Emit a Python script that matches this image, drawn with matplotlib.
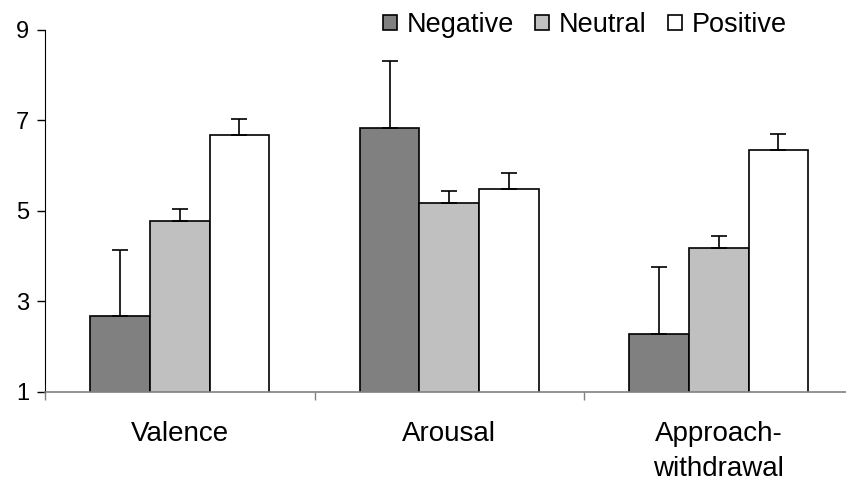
import matplotlib
matplotlib.use('Agg')
import matplotlib.pyplot as plt
from matplotlib import transforms
import numpy as np

# Mean ratings and error bars
categories = ['Valence', 'Arousal', 'Approach-\nwithdrawal']
series = ['Negative', 'Neutral', 'Positive']
negative = [2.67, 6.84, 2.28]
neutral = [4.78, 5.17, 4.18]
positive = [6.68, 5.48, 6.35]
negative_err = [1.47, 1.47, 1.47]
neutral_err = [0.27, 0.27, 0.27]
positive_err = [0.36, 0.36, 0.36]
yticks = [1, 3, 5, 7, 9]

colors = ['#808080', '#c0c0c0', '#ffffff']


def plotData():
    '''Draws the grouped bar chart with upward error bars and saves out.png'''
    plt.rcParams['font.family'] = ['Liberation Sans', 'DejaVu Sans']
    W, H = 846, 482
    fig = plt.figure(figsize=(W / 100, H / 100), dpi=100)
    ax = fig.add_axes([45 / W, (H - 391.7) / H, 1 - 45 / W, (391.7 - 30) / H])

    centers = np.arange(len(categories)) + 0.5
    width = 0.221
    values = [negative, neutral, positive]
    errs = [negative_err, neutral_err, positive_err]
    for i in range(len(series)):
        x = centers + (i - 1) * width
        ax.bar(x, values[i], width, bottom=0, color=colors[i],
               edgecolor='black', linewidth=1.2, label=series[i], zorder=2)
        # only the upper half of each error bar is shown
        ax.errorbar(x, values[i], yerr=[np.zeros(len(x)), errs[i]],
                    fmt='none', ecolor='black', elinewidth=1.2,
                    capsize=5.5, capthick=1.2, zorder=3)

    ax.set_ylim(1, 9)
    ax.set_xlim(0, 801 / 269.5)
    ax.set_yticks(yticks)
    ax.set_yticklabels([str(t) for t in yticks], fontsize=17)
    ax.tick_params(axis='y', direction='out', length=5.5, width=1,
                   color='black', pad=6)

    # category ticks sit between the groups, labels in the middle
    ax.set_xticks([0, 1, 2])
    ax.set_xticklabels([])
    ax.tick_params(axis='x', direction='out', length=6, width=1,
                   color='#808080')
    trans = transforms.blended_transform_factory(ax.transData, fig.transFigure)
    for c, name in zip(centers, categories):
        # one text per line so every first line shares a baseline
        for k, line in enumerate(name.split('\n')):
            ax.text(c, 1 - (441 + 35 * k) / H, line, transform=trans,
                    ha='center', va='baseline', fontsize=20)

    for side in ['top', 'right']:
        ax.spines[side].set_visible(False)
    ax.spines['left'].set_color('black')
    ax.spines['bottom'].set_color('#808080')
    ax.spines['bottom'].set_linewidth(1.2)

    leg = fig.legend(loc='center right', bbox_to_anchor=(787 / W, 1 - 25 / H),
                     ncol=3, frameon=False, fontsize=19.5,
                     handlelength=0.52, handleheight=0.52,
                     handletextpad=0.35, columnspacing=0.8,
                     borderaxespad=0, borderpad=0)
    for h in leg.legend_handles:
        h.set_linewidth(1.2)

    fig.savefig('out.png', dpi=100)


def main():
    plotData()


if __name__ == '__main__':
    main()
